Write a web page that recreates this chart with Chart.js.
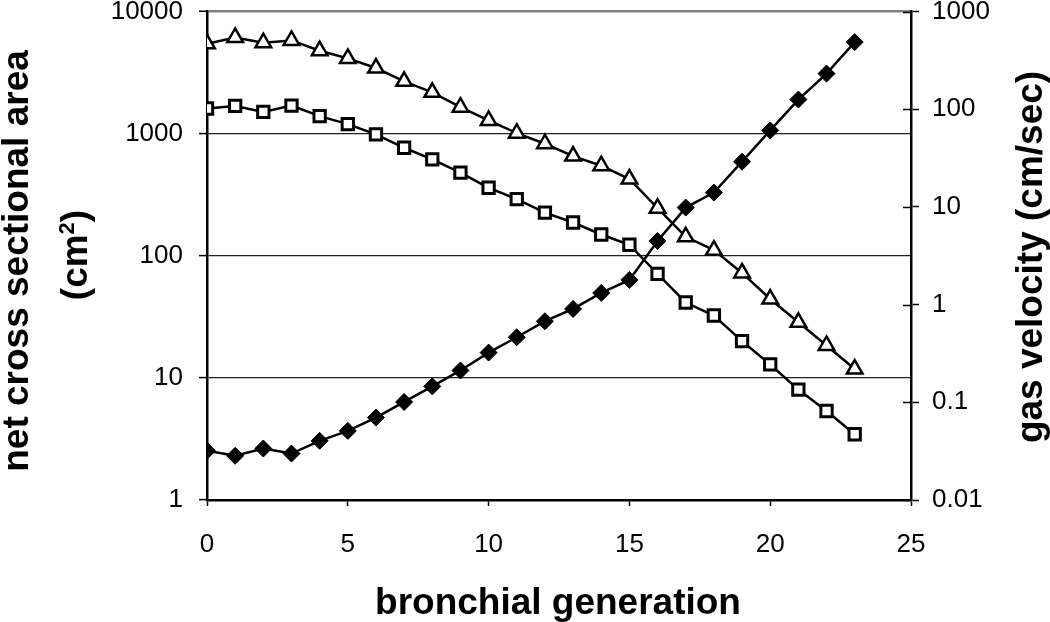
<!DOCTYPE html>
<html>
<head>
<meta charset="utf-8">
<script src="https://cdn.jsdelivr.net/npm/chart.js@4/dist/chart.umd.min.js"></script>
<style>
  html, body { margin: 0; padding: 0; background: #fff; }
  #c { display: block; }
</style>
</head>
<body>
<canvas id="c" width="1050" height="622"></canvas>
<script>
// Data
const generations = [0, 1, 2, 3, 4, 5, 6, 7, 8, 9, 10, 11, 12, 13, 14, 15, 16, 17, 18, 19, 20, 21, 22, 23];
// net cross sectional area (cm2), left axis, filled diamonds
const areaCm2 = [2.53, 2.30, 2.64, 2.40, 3.05, 3.68, 4.73, 6.35, 8.52, 11.5, 16.1, 21.5, 29.1, 36.7, 49.6, 63.4, 132, 248, 329, 589, 1062, 1901, 3100, 5615];
// gas velocity (cm/sec), right axis, open triangles
const velocityTri = [468, 543, 480, 506, 397, 331, 264, 193, 149, 105, 76.7, 56.9, 44.3, 33.1, 26.4, 19.3, 9.70, 4.94, 3.61, 2.11, 1.14, 0.659, 0.382, 0.219];
// gas velocity (cm/sec), right axis, open squares
const velocitySq = [101.6, 108, 93.8, 109, 84.9, 70.3, 55.2, 40.3, 30.7, 22.4, 15.7, 12.0, 8.75, 6.92, 5.22, 4.10, 2.06, 1.05, 0.773, 0.423, 0.244, 0.135, 0.0815, 0.0471];

const xTicks = [0, 5, 10, 15, 20, 25];
const leftTicks = [1, 10, 100, 1000, 10000];
const rightTicks = [0.01, 0.1, 1, 10, 100, 1000];

const FONT = '"Liberation Sans", Arial, sans-serif';

function points(ys) {
    return generations.map((g, i) => ({ x: g, y: ys[i] }));
}

function noPadding(scale) {
    scale.paddingTop = 0;
    scale.paddingBottom = 0;
    scale.paddingLeft = 0;
    scale.paddingRight = 0;
}

// Axis titles and the inner half of the right axis ticks
const extras = {
    id: 'extras',
    afterDraw(chart) {
        const ctx = chart.ctx;
        ctx.save();
        ctx.fillStyle = '#000';
        ctx.strokeStyle = '#000';

        // right axis ticks cross the axis line
        const r = chart.scales.y2;
        ctx.lineWidth = 1.5;
        rightTicks.forEach(v => {
            const y = Math.round(r.getPixelForValue(v)) + 0.5;
            ctx.beginPath();
            ctx.moveTo(r.left - 8, y);
            ctx.lineTo(r.left, y);
            ctx.stroke();
        });

        ctx.font = 'bold 37px ' + FONT;
        ctx.textAlign = 'center';
        ctx.textBaseline = 'alphabetic';
        ctx.fillText('bronchial generation', 558, 614);

        // left title, two lines
        ctx.save();
        ctx.translate(28, 261);
        ctx.rotate(-Math.PI / 2);
        ctx.fillText('net cross sectional area', 0, 0);
        ctx.restore();

        ctx.save();
        ctx.translate(87, 255);
        ctx.rotate(-Math.PI / 2);
        ctx.textAlign = 'left';
        const supFont = 'bold 22px ' + FONT;
        const mainFont = 'bold 37px ' + FONT;
        ctx.font = mainFont;
        const w1 = ctx.measureText('(cm').width;
        const w3 = ctx.measureText(')').width;
        ctx.font = supFont;
        const w2 = ctx.measureText('2').width;
        let x = -(w1 + w2 + w3) / 2;
        ctx.font = mainFont;
        ctx.fillText('(cm', x, 0);
        x += w1;
        ctx.font = supFont;
        ctx.fillText('2', x, -13);
        x += w2;
        ctx.font = mainFont;
        ctx.fillText(')', x, 0);
        ctx.restore();

        // right title
        ctx.save();
        ctx.translate(1042, 257);
        ctx.rotate(-Math.PI / 2);
        ctx.fillText('gas velocity (cm/sec)', 0, 0);
        ctx.restore();

        ctx.restore();
    }
};

const chart = new Chart(document.getElementById('c'), {
    type: 'scatter',
    data: {
        datasets: [
            {
                label: 'velocity (triangles)',
                data: points(velocityTri),
                yAxisID: 'y2',
                showLine: true,
                borderColor: '#000',
                borderWidth: 2.5,
                pointStyle: 'triangle',
                pointRadius: 9,
                pointBackgroundColor: '#fff',
                pointBorderColor: '#000',
                pointBorderWidth: 2.5
            },
            {
                label: 'velocity (squares)',
                data: points(velocitySq),
                yAxisID: 'y2',
                showLine: true,
                borderColor: '#000',
                borderWidth: 2.5,
                pointStyle: 'rect',
                pointRadius: 8,
                pointBackgroundColor: '#fff',
                pointBorderColor: '#000',
                pointBorderWidth: 3
            },
            {
                label: 'net cross sectional area',
                data: points(areaCm2),
                yAxisID: 'y',
                showLine: true,
                borderColor: '#000',
                borderWidth: 2.5,
                pointStyle: 'rectRot',
                pointRadius: 8.5,
                pointBackgroundColor: '#000',
                pointBorderColor: '#000',
                pointBorderWidth: 1
            }
        ]
    },
    options: {
        responsive: false,
        animation: false,
        layout: { padding: { left: 0, right: 0, top: 10, bottom: 0 } },
        plugins: {
            legend: { display: false },
            tooltip: { enabled: false }
        },
        scales: {
            x: {
                type: 'linear',
                position: 'bottom',
                min: 0,
                max: 25,
                afterBuildTicks: s => { s.ticks = xTicks.map(v => ({ value: v })); },
                afterFit: s => { s.height = 122; noPadding(s); },
                ticks: {
                    color: '#000',
                    font: { family: FONT, size: 26 },
                    padding: 23,
                    maxRotation: 0
                },
                grid: {
                    drawOnChartArea: false,
                    tickLength: 6,
                    tickColor: '#000',
                    tickWidth: 1.5
                },
                border: { color: '#000', width: 2.5 }
            },
            y: {
                type: 'logarithmic',
                position: 'left',
                min: 1,
                max: 10000,
                afterBuildTicks: s => { s.ticks = leftTicks.map(v => ({ value: v })); },
                afterFit: s => { s.width = 207; noPadding(s); },
                ticks: {
                    color: '#000',
                    font: { family: FONT, size: 26 },
                    padding: 16,
                    callback: v => String(v)
                },
                grid: {
                    color: c => c.tick && c.tick.value === 10000 ? '#808080' : '#222',
                    lineWidth: c => c.tick && c.tick.value === 10000 ? 2.5 : 1.2,
                    tickLength: 8,
                    tickColor: '#000',
                    tickWidth: 1.5
                },
                border: { color: '#000', width: 2.5 }
            },
            y2: {
                type: 'logarithmic',
                position: 'right',
                min: 0.01,
                max: 1000,
                afterBuildTicks: s => { s.ticks = rightTicks.map(v => ({ value: v })); },
                afterFit: s => { s.width = 139; noPadding(s); },
                ticks: {
                    color: '#000',
                    font: { family: FONT, size: 26 },
                    padding: 13,
                    callback: v => String(v)
                },
                grid: {
                    drawOnChartArea: false,
                    tickLength: 8,
                    tickColor: '#000',
                    tickWidth: 1.5
                },
                border: { color: '#000', width: 2.5 }
            }
        }
    },
    plugins: [extras]
});
</script>
</body>
</html>
